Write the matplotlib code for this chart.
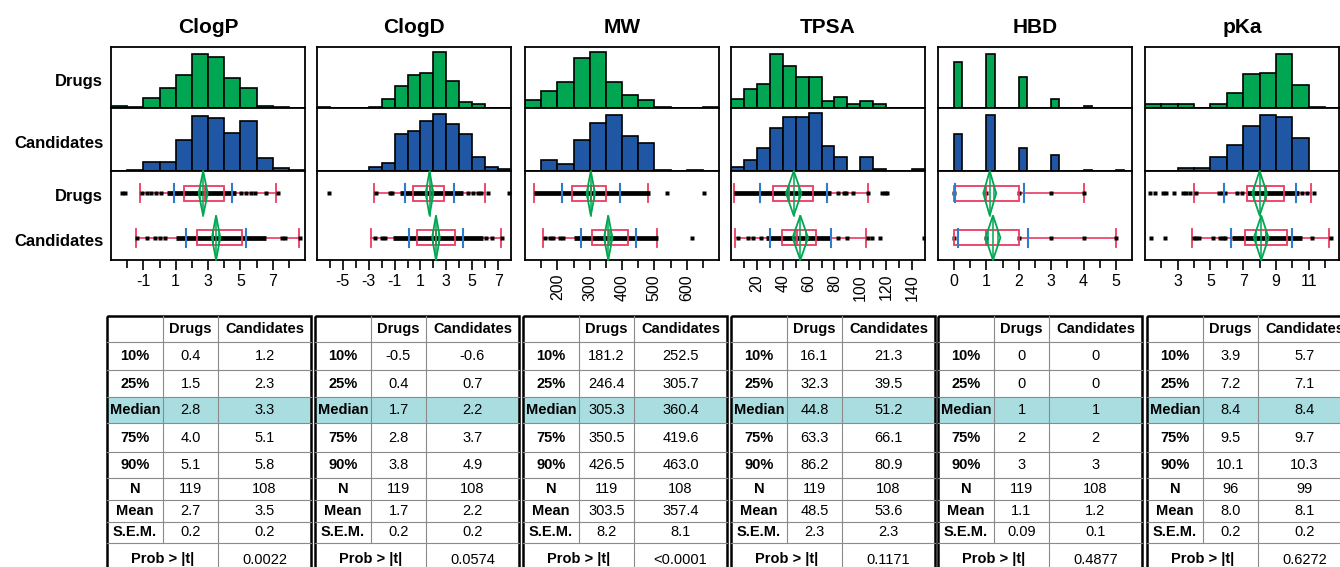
import numpy as np
import matplotlib
matplotlib.use('Agg')
from matplotlib import pyplot as plt
from matplotlib.patches import Rectangle, Polygon

plt.rcParams['font.family'] = ['Liberation Sans', 'DejaVu Sans']
plt.rcParams['axes.unicode_minus'] = False

titles = ['ClogP', 'ClogD', 'MW', 'TPSA', 'HBD', 'pKa']

# histogram bars: left edges, bin width, heights (% of row height)
clogp_edges = list(range(-3, 9))
clogp_drugs_hist = [4, 2, 16, 32, 54, 89, 84, 50, 32, 4, 2, 0]
clogp_cands_hist = [0, 2, 14, 14, 50, 87, 84, 61, 80, 21, 5, 2]

clogd_edges = list(range(-7, 8))
clogd_drugs_hist = [2, 0, 0, 0, 2, 14, 36, 54, 58, 91, 44, 10, 6, 0, 0]
clogd_cands_hist = [0, 0, 0, 0, 7, 13, 58, 63, 80, 91, 75, 58, 22, 7, 3]

mw_edges = list(range(100, 700, 50))
mw_drugs_hist = [13, 28, 43, 82, 91, 43, 21, 13, 2, 0, 0, 2]
mw_cands_hist = [0, 18, 11, 50, 76, 89, 56, 44, 2, 0, 2, 0]

tpsa_edges = list(range(0, 150, 10))
tpsa_drugs_hist = [14, 31, 39, 89, 69, 51, 51, 12, 18, 7, 12, 7, 0, 0, 0]
tpsa_cands_hist = [7, 17, 36, 68, 85, 85, 92, 39, 22, 0, 22, 3, 0, 0, 3]

hbd_edges = [0, 1, 2, 3, 4, 5]
hbd_drugs_hist = [75, 89, 51, 15, 3, 0]
hbd_cands_hist = [59, 89, 37, 26, 2, 2]

pka_edges = list(range(1, 13))
pka_drugs_hist = [7, 7, 7, 0, 7, 25, 56, 58, 89, 38, 2, 0]
pka_cands_hist = [0, 0, 4, 4, 22, 42, 71, 89, 85, 52, 0, 0]

bin_widths = [1, 1, 50, 10, 0.25, 1]

# summary tables (as printed)
row_labels = ['10%', '25%', 'Median', '75%', '90%', 'N', 'Mean', 'S.E.M.']
clogp_tab_drugs = ['0.4', '1.5', '2.8', '4.0', '5.1', '119', '2.7', '0.2']
clogp_tab_cands = ['1.2', '2.3', '3.3', '5.1', '5.8', '108', '3.5', '0.2']
clogd_tab_drugs = ['-0.5', '0.4', '1.7', '2.8', '3.8', '119', '1.7', '0.2']
clogd_tab_cands = ['-0.6', '0.7', '2.2', '3.7', '4.9', '108', '2.2', '0.2']
mw_tab_drugs = ['181.2', '246.4', '305.3', '350.5', '426.5', '119', '303.5', '8.2']
mw_tab_cands = ['252.5', '305.7', '360.4', '419.6', '463.0', '108', '357.4', '8.1']
tpsa_tab_drugs = ['16.1', '32.3', '44.8', '63.3', '86.2', '119', '48.5', '2.3']
tpsa_tab_cands = ['21.3', '39.5', '51.2', '66.1', '80.9', '108', '53.6', '2.3']
hbd_tab_drugs = ['0', '0', '1', '2', '3', '119', '1.1', '0.09']
hbd_tab_cands = ['0', '0', '1', '2', '3', '108', '1.2', '0.1']
pka_tab_drugs = ['3.9', '7.2', '8.4', '9.5', '10.1', '96', '8.0', '0.2']
pka_tab_cands = ['5.7', '7.1', '8.4', '9.7', '10.3', '99', '8.1', '0.2']
prob_t = ['0.0022', '0.0574', '<0.0001', '0.1171', '0.4877', '0.6272']

# box plot extras: whiskers, std dev, 95% CI half width
clogp_whisk = [(-1.2, 7.2), (-1.45, 8.6)]
clogd_whisk = [(-2.6, 6.0), (-2.8, 7.2)]
mw_whisk = [(127, 480), (155, 508)]
tpsa_whisk = [(2.6, 106), (3.4, 104)]
hbd_whisk = [(0, 4), (0, 5)]
pka_whisk = [(4.0, 11.15), (3.9, 12.25)]

clogp_sd = [1.8, 1.85]
clogd_sd = [1.9, 2.05]
mw_sd = [90, 85]
tpsa_sd = [26, 23.7]
hbd_sd = [1.06, 1.08]
pka_sd = [2.2, 1.85]

clogp_ci = [0.28, 0.26]
clogd_ci = [0.3, 0.3]
mw_ci = [13, 13]
tpsa_ci = [6, 6]
hbd_ci = [0.2, 0.23]
pka_ci = [0.45, 0.45]

# individual points (sparse ones) and the dense run of points
clogp_drugs_pts = [-2.33, -2.13, -1.1, -0.8, -0.5, -0.2, 0.1, 5.05, 5.37, 5.67, 5.9, 6.6, 7.3]
clogp_cands_pts = [-1.4, -0.75, -0.28, 0.03, 0.33, 7.6, 7.75, 8.7]
clogd_drugs_pts = [-6.05, -2.45, -1.35, -1.2, 4.7, 5.1, 5.45, 5.7, 6.2, 7.85]
clogd_cands_pts = [-2.5, -2.0, -1.73, 6.1, 6.5, 7.27]
mw_drugs_pts = [538, 653]
mw_cands_pts = [163, 178, 188, 207, 219, 616]
tpsa_drugs_pts = [83, 87, 89, 94.6, 106, 117, 119, 121]
tpsa_cands_pts = [5.2, 13, 16.8, 23.3, 83, 89.4, 106, 109, 115, 149.5]
hbd_drugs_pts = [0, 1, 2, 3, 4]
hbd_cands_pts = [0, 1, 2, 3, 4, 5]
pka_drugs_pts = [1.3, 1.6, 2.1, 2.3, 2.8, 3.3, 3.5, 3.75, 4.1, 5.5, 5.7, 5.9, 6.6, 6.9, 10.6, 10.9, 11.3]
pka_cands_pts = [1.38, 2.23, 4.0, 4.1, 4.3, 5.17, 5.6, 5.75, 5.9, 11.2, 12.35]

clogp_dense = [(0.44, 4.75), (1.05, 6.6)]
clogd_dense = [(-0.6, 4.3), (-1.14, 5.85)]
mw_dense = [(127, 486), (250, 512)]
tpsa_dense = [(2.6, 77.7), (27, 77.7)]
hbd_dense = [None, None]
pka_dense = [(7.2, 10.4), (6.3, 10.6)]

variables = [
    (clogp_edges, clogp_drugs_hist, clogp_cands_hist, clogp_tab_drugs, clogp_tab_cands,
     clogp_whisk, clogp_sd, clogp_ci, clogp_drugs_pts, clogp_cands_pts, clogp_dense),
    (clogd_edges, clogd_drugs_hist, clogd_cands_hist, clogd_tab_drugs, clogd_tab_cands,
     clogd_whisk, clogd_sd, clogd_ci, clogd_drugs_pts, clogd_cands_pts, clogd_dense),
    (mw_edges, mw_drugs_hist, mw_cands_hist, mw_tab_drugs, mw_tab_cands,
     mw_whisk, mw_sd, mw_ci, mw_drugs_pts, mw_cands_pts, mw_dense),
    (tpsa_edges, tpsa_drugs_hist, tpsa_cands_hist, tpsa_tab_drugs, tpsa_tab_cands,
     tpsa_whisk, tpsa_sd, tpsa_ci, tpsa_drugs_pts, tpsa_cands_pts, tpsa_dense),
    (hbd_edges, hbd_drugs_hist, hbd_cands_hist, hbd_tab_drugs, hbd_tab_cands,
     hbd_whisk, hbd_sd, hbd_ci, hbd_drugs_pts, hbd_cands_pts, hbd_dense),
    (pka_edges, pka_drugs_hist, pka_cands_hist, pka_tab_drugs, pka_tab_cands,
     pka_whisk, pka_sd, pka_ci, pka_drugs_pts, pka_cands_pts, pka_dense),
]

# axis settings
xlims = [(-3, 9), (-7, 8), (100, 700), (0, 150), (-0.5, 5.5), (1, 12.85)]
major_ticks = [[-1, 1, 3, 5, 7], [-5, -3, -1, 1, 3, 5, 7], [200, 300, 400, 500, 600],
               [20, 40, 60, 80, 100, 120, 140], [0, 1, 2, 3, 4, 5], [3, 5, 7, 9, 11]]
minor_ticks = [[-2, 0, 2, 4, 6, 8], [-6, -4, -2, 0, 2, 4, 6], [150, 250, 350, 450, 550, 650],
               [10, 30, 50, 70, 90, 110, 130], [0.5, 1.5, 2.5, 3.5, 4.5], [2, 4, 6, 8, 10, 12]]
rotate = [0, 0, 90, 90, 0, 0]

GREEN = '#00a651'
BLUE_BAR = '#1f57a4'
RED = '#ee3a60'
BLUE = '#2f7bd0'
TEAL = '#a9dde0'

W, H = 1340, 567
fig = plt.figure(figsize=(13.4, 5.67), dpi=100)


def px_axes(x0, y0, x1, y1):
    return fig.add_axes([x0 / W, 1 - y1 / H, (x1 - x0) / W, (y1 - y0) / H])


def style(ax):
    for s in ax.spines.values():
        s.set_linewidth(1.3)
    ax.set_yticks([])


def draw_box(ax, y, tab, whisk, sd, ci, pts, dense):
    q25, med, q75, mean = float(tab[1]), float(tab[2]), float(tab[3]), float(tab[6])
    ax.plot([whisk[0], q25], [y, y], color=RED, lw=1.2, zorder=2)
    ax.plot([q75, whisk[1]], [y, y], color=RED, lw=1.2, zorder=2)
    for w in whisk:
        if w not in (q25, q75):
            ax.plot([w, w], [y - 0.2, y + 0.2], color=RED, lw=1.3, zorder=2)
    if dense is not None:
        ax.plot(dense, [y, y], color='black', lw=3.4, solid_capstyle='butt', zorder=3)
    ax.plot(pts, [y] * len(pts), 's', ms=2.8, color='black', mec='none', zorder=3)
    ax.add_patch(Rectangle((q25, y - 0.17), q75 - q25, 0.34, fill=False, ec=RED, lw=1.3, zorder=4))
    ax.plot([med, med], [y - 0.17, y + 0.17], color=RED, lw=1.3, zorder=4)
    for s in (mean - sd, mean + sd):
        ax.plot([s, s], [y - 0.2, y + 0.2], color=BLUE, lw=1.5, zorder=4)
    ax.add_patch(Polygon([(mean - ci, y), (mean, y + 0.5), (mean + ci, y), (mean, y - 0.5)],
                         closed=True, fill=False, ec=GREEN, lw=1.3, zorder=5, clip_on=False))
    ax.plot([mean, mean], [y - 0.5, y + 0.5], color=GREEN, lw=1.1, zorder=5, clip_on=False)
    o = ci / np.sqrt(2)
    for s in (mean - o, mean + o):
        ax.plot([s, s], [y - 0.15, y + 0.15], color=GREEN, lw=1.1, zorder=5)


panel_left = [111, 317, 525, 731, 938, 1145]
panel_w = 194
y_top, y_mid, y_box, y_bot = 47, 108, 171, 260

for i, (edges, dh, ch, td, tc, whisk, sd, ci, dp, cp, dense) in enumerate(variables):
    x0 = panel_left[i]
    x1 = x0 + panel_w
    ax_d = px_axes(x0, y_top, x1, y_mid)
    ax_c = px_axes(x0, y_mid, x1, y_box)
    ax_b = px_axes(x0, y_box, x1, y_bot)

    for ax, vals, col in ((ax_d, dh, GREEN), (ax_c, ch, BLUE_BAR)):
        ax.bar(edges, vals, width=bin_widths[i], align='edge', color=col,
               edgecolor='black', linewidth=1.2)
        ax.set_xlim(xlims[i])
        ax.set_ylim(0, 100)
        ax.set_xticks([])
        style(ax)

    draw_box(ax_b, 1, td, whisk[0], sd[0], ci[0], dp, dense[0])
    draw_box(ax_b, 0, tc, whisk[1], sd[1], ci[1], cp, dense[1])
    ax_b.set_xlim(xlims[i])
    ax_b.set_ylim(-0.5, 1.5)
    style(ax_b)
    ax_b.set_xticks(major_ticks[i])
    ax_b.set_xticks(minor_ticks[i], minor=True)
    ax_b.tick_params(axis='x', which='both', direction='out', width=1.2, labelsize=11.5, pad=3)
    ax_b.tick_params(axis='x', which='major', length=7)
    ax_b.tick_params(axis='x', which='minor', length=6)
    if rotate[i]:
        plt.setp(ax_b.get_xticklabels(), rotation=90)

    ax_d.set_title(titles[i], fontsize=15, fontweight='bold', pad=10)

    if i == 0:
        ax_d.text(-0.04, 0.44, 'Drugs', transform=ax_d.transAxes, ha='right', va='center',
                  fontsize=12, fontweight='bold')
        ax_c.text(-0.04, 0.44, 'Candidates', transform=ax_c.transAxes, ha='right', va='center',
                  fontsize=12, fontweight='bold')
        ax_b.text(-0.04, 0.92, 'Drugs', transform=ax_b.get_yaxis_transform(), ha='right',
                  va='center', fontsize=12, fontweight='bold')
        ax_b.text(-0.04, -0.08, 'Candidates', transform=ax_b.get_yaxis_transform(), ha='right',
                  va='center', fontsize=12, fontweight='bold')

# tables
tab_ax = fig.add_axes([0, 0, 1, 1], zorder=-1)
tab_ax.set_xlim(0, W)
tab_ax.set_ylim(H, 0)
tab_ax.axis('off')

table_left = [107, 315, 523, 731, 938, 1147]
col_x = [0, 56, 111, 204]
row_y = [316, 342, 370, 397, 423, 452, 478, 500, 522, 543, 578]

for i, (edges, dh, ch, td, tc, *_rest) in enumerate(variables):
    L = table_left[i]
    # median highlight
    tab_ax.add_patch(Rectangle((L, row_y[3]), col_x[3], row_y[4] - row_y[3], color=TEAL, lw=0))
    # inner grid
    for y in row_y[1:-1]:
        tab_ax.plot([L, L + col_x[3]], [y, y], color='#8a8a8a', lw=0.8)
    tab_ax.plot([L + col_x[1]] * 2, [row_y[0], row_y[-2]], color='#8a8a8a', lw=0.8)
    tab_ax.plot([L + col_x[2]] * 2, [row_y[0], row_y[-1]], color='#8a8a8a', lw=0.8)
    tab_ax.add_patch(Rectangle((L, row_y[0]), col_x[3], row_y[-1] - row_y[0], fill=False,
                               ec='black', lw=1.8))
    cx = [L + (col_x[k] + col_x[k + 1]) / 2 for k in range(3)]
    rc = [(row_y[k] + row_y[k + 1]) / 2 for k in range(len(row_y) - 1)]
    tab_ax.text(cx[1], rc[0], 'Drugs', ha='center', va='center', fontsize=10.5, fontweight='bold')
    tab_ax.text(cx[2], rc[0], 'Candidates', ha='center', va='center', fontsize=10.5, fontweight='bold')
    for r, lab in enumerate(row_labels):
        tab_ax.text(cx[0], rc[r + 1], lab, ha='center', va='center', fontsize=10.5, fontweight='bold')
        tab_ax.text(cx[1], rc[r + 1], td[r], ha='center', va='center', fontsize=10.5)
        tab_ax.text(cx[2], rc[r + 1], tc[r], ha='center', va='center', fontsize=10.5)
    tab_ax.text(L + col_x[2] / 2, rc[9] - 1, 'Prob > |t|', ha='center', va='center',
                fontsize=10.5, fontweight='bold')
    tab_ax.text(cx[2], rc[9] - 1, prob_t[i], ha='center', va='center', fontsize=10.5)

fig.savefig('out.png', dpi=100)
